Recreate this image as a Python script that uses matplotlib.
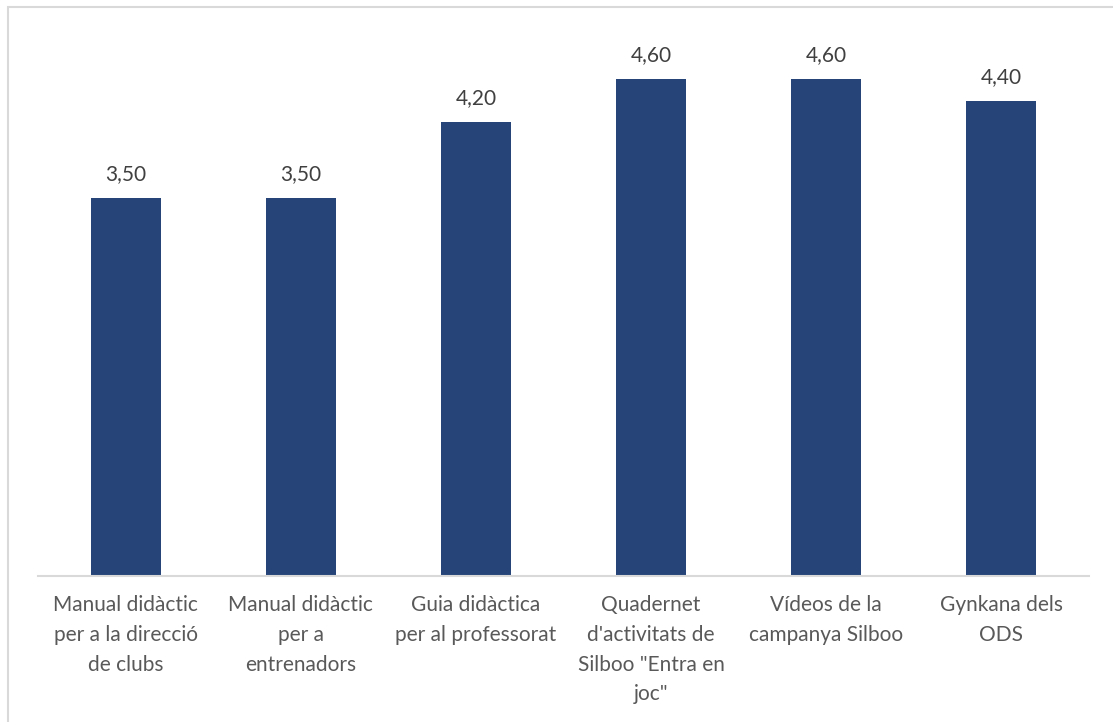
import matplotlib.pyplot as plt
from matplotlib.patches import Rectangle

categories = [
    "Manual didàctic\nper a la direcció\nde clubs",
    "Manual didàctic\nper a\nentrenadors",
    "Guia didàctica\nper al professorat",
    "Quadernet\nd'activitats de\nSilboo \"Entra en\njoc\"",
    "Vídeos de la\ncampanya Silboo",
    "Gynkana dels\nODS",
]
values = [3.50, 3.50, 4.20, 4.60, 4.60, 4.40]

plt.rcParams['font.family'] = ['Lato', 'DejaVu Sans']

W, H = 1113, 722
fig = plt.figure(figsize=(W / 100, H / 100), dpi=100)
ax = fig.add_axes([38 / W, 146 / H, (1089 - 38) / W, 540 / H])

x = list(range(len(categories)))
bars = ax.bar(x, values, width=0.4, color='#264478', zorder=2)
for b, v in zip(bars, values):
    ax.annotate(f"{v:.2f}".replace('.', ','), (b.get_x() + b.get_width() / 2, v),
                xytext=(0, 10), textcoords='offset points', ha='center', va='bottom',
                fontsize=15, color='#404040')

ax.set_xlim(-0.5, len(categories) - 0.5)
ax.set_ylim(0, 5)
ax.set_xticks(x)
ax.set_xticklabels(categories, fontsize=15, color='#595959', linespacing=1.6, va='top')
ax.tick_params(axis='x', length=0, pad=14)
ax.set_yticks([])
for s in ['left', 'right', 'top']:
    ax.spines[s].set_visible(False)
ax.spines['bottom'].set_color('#d9d9d9')
ax.spines['bottom'].set_linewidth(1.5)

# outer chart border (only top and left visible in the crop)
fig.patches.append(Rectangle((8 / W, -0.1), 1.2, (H - 7) / H + 0.1, transform=fig.transFigure,
                             fill=False, edgecolor='#d9d9d9', linewidth=1.5))

fig.savefig('out.png', dpi=100)
